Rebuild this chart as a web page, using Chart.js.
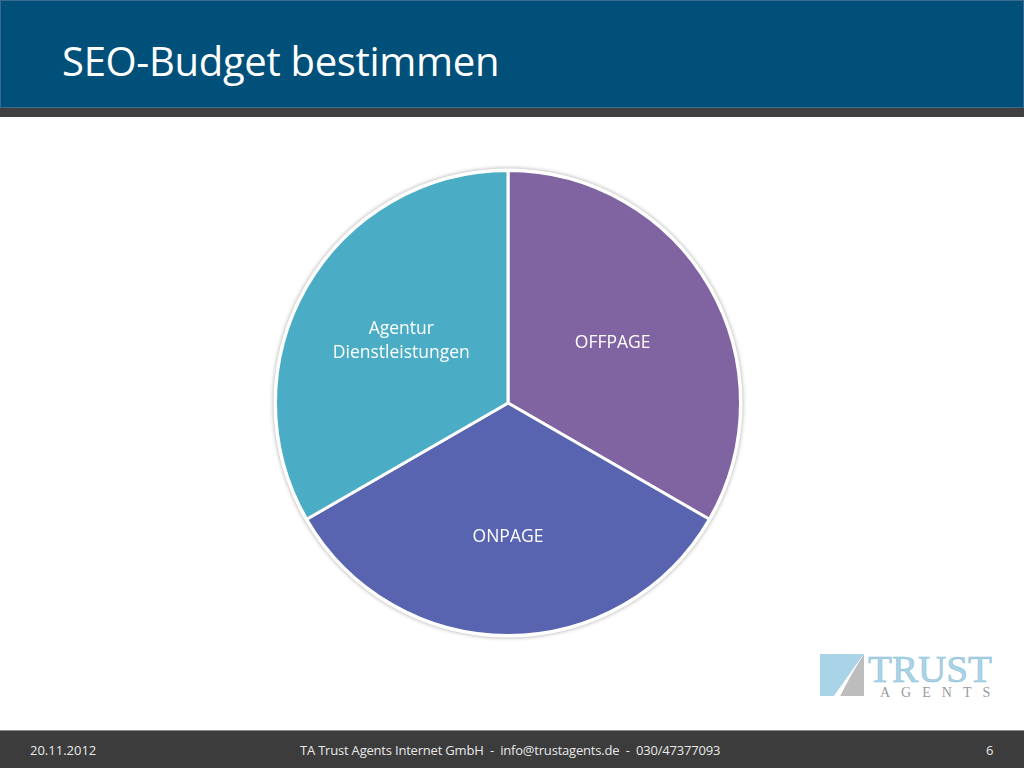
<!DOCTYPE html>
<html>
<head>
<meta charset="utf-8">
<script src="https://cdn.jsdelivr.net/npm/chart.js@4/dist/chart.umd.min.js"></script>
<style>
  html, body { margin: 0; padding: 0; }
  body { width: 1024px; height: 768px; background: #ffffff; position: relative; overflow: hidden; font-family: 'Open Sans', sans-serif; }
  .header { position: absolute; left: 0; top: 0; width: 1022px; height: 106px; background: #00507a; border: 1px solid #3a6b92; }
  .header h1 { margin: 0; position: absolute; left: 61px; top: 34px; font-weight: 400; font-size: 40px; line-height: 52px; color: #ffffff; letter-spacing: -0.3px; }
  .strip { position: absolute; left: 0; top: 108px; width: 1024px; height: 9px; background: #404040; }
  .chart-box { position: absolute; left: 268px; top: 163px; width: 480px; height: 480px; }
  .footer { position: absolute; left: 0; top: 730px; width: 1024px; height: 38px; background: #3c3c3c; border-top: 1px solid #8a8a8a; color: #e8e8e8; font-size: 13px; }
  .footer span { position: absolute; top: 10px; }
  .logo { position: absolute; left: 818px; top: 650px; }
</style>
</head>
<body>
<div class="header"><h1>SEO-Budget bestimmen</h1></div>
<div class="strip"></div>
<div class="chart-box"><canvas id="myChart"></canvas></div>
<svg class="logo" width="180" height="52" viewBox="0 0 180 52">
  <path d="M2 4 H46 C36 18 26 32 16 46 H2 Z" fill="#a9d4e8"/>
  <path d="M46 4 V46 H22 C30 30 38 16 46 4 Z" fill="#bdbdbd"/>
  <path d="M46 4 C36 18 26 32 16 46 L22 46 C30 30 38 16 46 4 Z" fill="#ffffff"/>
  <text x="50" y="32" font-family="'Liberation Serif', serif" font-size="38" fill="#a9d4e8" stroke="#8fbfd6" stroke-width="0.6" textLength="124" lengthAdjust="spacingAndGlyphs">TRUST</text>
  <text x="62" y="47" font-family="'Liberation Serif', serif" font-size="14" fill="#9a9a9a" letter-spacing="11">AGENTS</text>
</svg>
<div class="footer">
  <span style="left:30px">20.11.2012</span>
  <span style="left:300px; letter-spacing:-0.2px">TA Trust Agents Internet GmbH&nbsp; -&nbsp; info@trustagents.de&nbsp; -&nbsp; 030/47377093</span>
  <span style="left:986px">6</span>
</div>
<script>
const labels = ['OFFPAGE', 'ONPAGE', 'Agentur Dienstleistungen'];
const sliceLines = [['OFFPAGE'], ['ONPAGE'], ['Agentur', 'Dienstleistungen']];
const values = [1, 1, 1];
const colors = ['#8064a2', '#5864b0', '#4bacc6'];
const labelRadius = [0.52, 0.575, 0.53];

const sliceLabels = {
    id: 'sliceLabels',
    afterDatasetsDraw: function (chart) {
        const ctx = chart.ctx;
        const meta = chart.getDatasetMeta(0);
        ctx.save();
        ctx.fillStyle = '#ffffff';
        ctx.font = '17.5px "Open Sans"';
        ctx.textAlign = 'center';
        ctx.textBaseline = 'middle';
        meta.data.forEach(function (arc, i) {
            const mid = (arc.startAngle + arc.endAngle) / 2;
            const r = arc.outerRadius * labelRadius[i];
            const x = arc.x + Math.cos(mid) * r;
            const y = arc.y + Math.sin(mid) * r;
            const lines = sliceLines[i];
            lines.forEach(function (line, j) {
                ctx.fillText(line, x, y + (j - (lines.length - 1) / 2) * 24);
            });
        });
        ctx.restore();
    }
};

const ringShadow = {
    id: 'ringShadow',
    beforeDatasetsDraw: function (chart) {
        const arc = chart.getDatasetMeta(0).data[0];
        const ctx = chart.ctx;
        ctx.save();
        ctx.beginPath();
        ctx.arc(arc.x, arc.y, arc.outerRadius + 2, 0, Math.PI * 2);
        ctx.fillStyle = '#ffffff';
        ctx.shadowColor = 'rgba(0,0,0,0.35)';
        ctx.shadowBlur = 4;
        ctx.fill();
        ctx.restore();
    }
};

new Chart(document.getElementById('myChart'), {
    type: 'pie',
    data: {
        labels: labels,
        datasets: [{
            data: values,
            backgroundColor: colors,
            borderColor: '#ffffff',
            borderWidth: 3
        }]
    },
    options: {
        responsive: true,
        maintainAspectRatio: false,
        animation: false,
        layout: { padding: 6 },
        plugins: {
            legend: { display: false },
            tooltip: { enabled: false }
        }
    },
    plugins: [ringShadow, sliceLabels]
});
</script>
</body>
</html>
